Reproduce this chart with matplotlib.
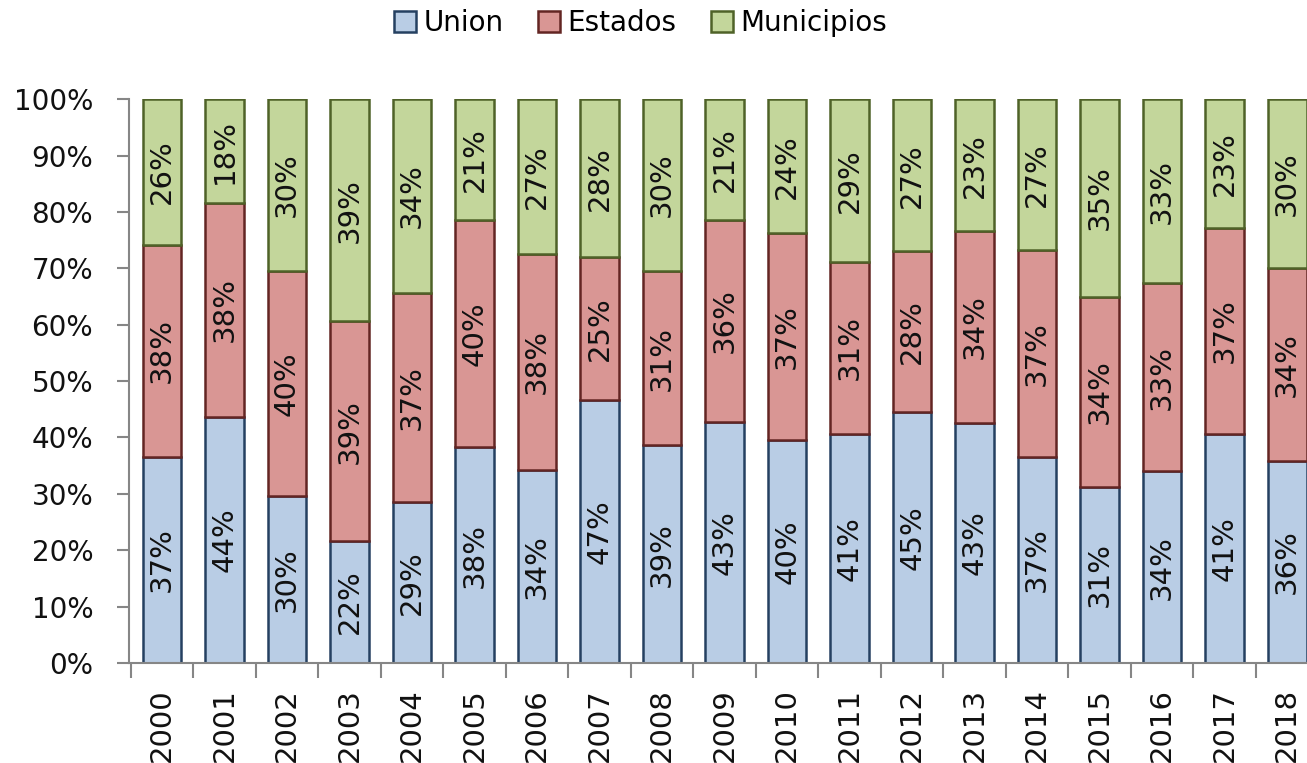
import matplotlib.pyplot as plt
import numpy as np

years = [str(y) for y in range(2000, 2019)]
# shares in percent
union = [36.6, 43.7, 29.6, 21.6, 28.6, 38.3, 34.2, 46.6, 38.6, 42.8,
         39.6, 40.6, 44.6, 42.6, 36.6, 31.3, 34.0, 40.6, 35.9]
estados = [37.6, 37.9, 40.0, 39.0, 37.1, 40.3, 38.4, 25.4, 31.0, 35.8,
           36.6, 30.6, 28.4, 34.0, 36.6, 33.7, 33.4, 36.6, 34.1]
municipios = [25.8, 18.4, 30.4, 39.4, 34.3, 21.4, 27.4, 28.0, 30.4, 21.4,
              23.8, 28.8, 27.0, 23.4, 26.8, 35.0, 32.6, 22.8, 30.0]

series = [('Union', union, '#B9CDE5', '#254061'),
          ('Estados', estados, '#D99694', '#632523'),
          ('Municipios', municipios, '#C3D69B', '#4F6228')]

plt.rcParams['font.family'] = 'DejaVu Sans'

fig = plt.figure(figsize=(13.07, 7.63), dpi=100)
ax = fig.add_axes([0.0985, 0.1311, 0.9103, 0.7388])

x = np.arange(len(years))
bottom = np.zeros(len(years))
for name, vals, fc, ec in series:
    vals = np.array(vals)
    bars = ax.bar(x, vals, 0.617, bottom=bottom, color=fc, edgecolor=ec,
                  linewidth=1.8, label=name, zorder=2)
    ax.bar_label(bars, fmt='{:.0f}%', label_type='center', rotation=90,
                 fontsize=21, color='#111111')
    bottom += vals

ax.set_xlim(-0.53, 18.5)
ax.set_ylim(0, 100)
ax.set_yticks(range(0, 101, 10))
ax.yaxis.set_major_formatter(lambda v, p: f'{v:.0f}%')

ax.set_xticks(x)
ax.set_xticklabels(years, rotation=90, fontsize=21)
ax.set_xticks(np.arange(-0.5, 19, 1), minor=True)
ax.tick_params(axis='x', which='major', length=0, pad=18, colors='#111111')
ax.tick_params(axis='x', which='minor', length=11, width=1.5, color='#868686')
ax.tick_params(axis='y', length=8.6, width=1.5, color='#868686', pad=17,
               labelsize=20, labelcolor='#111111')

for s in ['top', 'right']:
    ax.spines[s].set_visible(False)
for s in ['left', 'bottom']:
    ax.spines[s].set_color('#868686')
    ax.spines[s].set_linewidth(1.5)

fig.legend(loc='center', bbox_to_anchor=(0.49, 0.97), ncol=3, frameon=False,
           fontsize=20, handlelength=0.8, handleheight=0.8,
           handletextpad=0.25, columnspacing=1.25)

fig.savefig('out.png', dpi=100)
